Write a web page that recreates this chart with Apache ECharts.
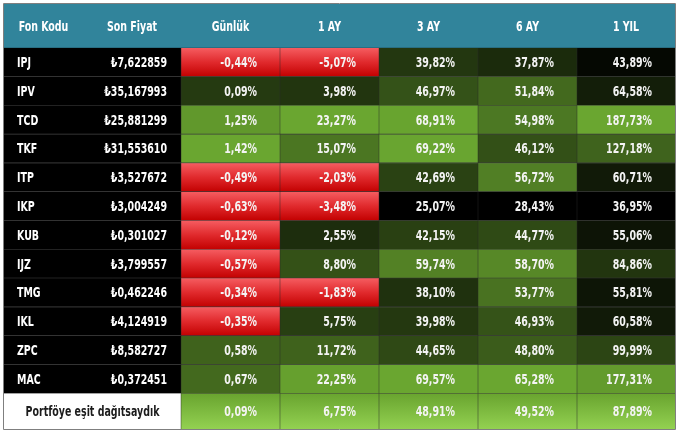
<!DOCTYPE html>
<html>
<head>
<meta charset="utf-8">
<script src="https://cdn.jsdelivr.net/npm/echarts@6/dist/echarts.min.js"></script>
<style>
  html, body { margin: 0; padding: 0; background: #fff; }
  #chart { width: 680px; height: 435px; }
</style>
</head>
<body>
<div id="chart"></div>
<script>
// table data
const columns = ['Fon Kodu', 'Son Fiyat', 'Günlük', '1 AY', '3 AY', '6 AY', '1 YIL']
const funds = ['IPJ', 'IPV', 'TCD', 'TKF', 'ITP', 'IKP', 'KUB', 'IJZ', 'TMG', 'IKL', 'ZPC', 'MAC']
const prices = [7.622859, 35.167993, 25.881299, 31.553610, 3.527672, 3.004249, 0.301027, 3.799557, 0.462246, 4.124919, 8.582727, 0.372451]
const daily = [-0.44, 0.09, 1.25, 1.42, -0.49, -0.63, -0.12, -0.57, -0.34, -0.35, 0.58, 0.67]
const month1 = [-5.07, 3.98, 23.27, 15.07, -2.03, -3.48, 2.55, 8.80, -1.83, 5.75, 11.72, 22.25]
const month3 = [39.82, 46.97, 68.91, 69.22, 42.69, 25.07, 42.15, 59.74, 38.10, 39.98, 44.65, 69.57]
const month6 = [37.87, 51.84, 54.98, 46.12, 56.72, 28.43, 44.77, 58.70, 53.77, 46.93, 48.80, 65.28]
const year1 = [43.89, 64.58, 187.73, 127.18, 60.71, 36.95, 55.06, 84.86, 55.81, 60.58, 99.99, 177.31]
const summaryLabel = 'Portföye eşit dağıtsaydık'
const summary = [0.09, 6.75, 48.91, 49.52, 87.89]

// layout
const colEdges = [0, 79, 177, 276, 375, 474, 573, 671]
const FONT = 'bold 14px "DejaVu Sans Condensed", "DejaVu Sans", sans-serif'
const SQUEEZE = 0.75 // condensed look

const fmtPct = v => v.toFixed(2).replace('.', ',') + '%'
const fmtPrice = v => '₺' + v.toFixed(6).replace('.', ',')

const redFill = new echarts.graphic.LinearGradient(0, 0, 0, 1, [
  { offset: 0, color: '#f55c60' },
  { offset: 0.5, color: '#e0292c' },
  { offset: 1, color: '#c20000' }
])
const sumFill = new echarts.graphic.LinearGradient(0, 0, 0, 1, [
  { offset: 0, color: '#69a42f' },
  { offset: 1, color: '#93d151' }
])

const valueCols = [daily, month1, month3, month6, year1]

// header cells
const headCells = columns.map((name, i) => ({ col: i, row: 0, span: 1, text: name, fill: '#31849b', color: '#fff', align: 'center', line: '#23596a' }))

// fund rows
const bodyCells = []
funds.forEach((f, i) => {
  bodyCells.push({ col: 0, row: i, span: 1, text: f, fill: '#000', color: '#fff', align: 'left', line: '#444' })
  bodyCells.push({ col: 1, row: i, span: 1, text: fmtPrice(prices[i]), fill: '#000', color: '#fff', align: 'right', line: '#444' })
  valueCols.forEach((vals, j) => {
    const min = Math.min(...vals)
    const max = Math.max(...vals)
    const v = vals[i]
    const fill = v < 0 ? redFill : echarts.color.lerp((v - min) / (max - min), ['#000000', '#6aa630'])
    bodyCells.push({ col: j + 2, row: i, span: 1, text: fmtPct(v), fill: fill, color: '#f4f4f4', align: 'value', line: '#3a3a3a', sep: true })
  })
})

// summary row
const sumCells = [{ col: 0, row: 0, span: 2, text: summaryLabel, fill: '#fff', color: '#1c1c1c', align: 'center', line: null }]
summary.forEach((v, j) => {
  sumCells.push({ col: j + 2, row: 0, span: 1, text: fmtPct(v), fill: sumFill, color: '#f4f4f4', align: 'value', line: null, sep: true })
})

function label(text, x, y, color, align) {
  return {
    type: 'text',
    x: x,
    y: y,
    scaleX: SQUEEZE,
    style: { text: text, x: 0, y: 0, fill: color, align: align, verticalAlign: 'middle', font: FONT }
  }
}

function makeRender(list) {
  return function (params, api) {
    const c = list[params.dataIndex]
    const row = api.value(1)
    const p0 = api.coord([colEdges[c.col], row])
    const p1 = api.coord([colEdges[c.col + c.span], row])
    const h = api.size([0, 1])[1]
    const x0 = p0[0], x1 = p1[0]
    const y0 = p0[1] - h / 2, y1 = p0[1] + h / 2
    let tx = (x0 + x1) / 2, align = 'center'
    if (c.align === 'left') { tx = x0 + 13; align = 'left' }
    if (c.align === 'right') { tx = x1 - 14; align = 'right' }
    if (c.align === 'value') { tx = x1 - 23; align = 'right' }
    const children = [
      { type: 'rect', shape: { x: x0, y: y0, width: x1 - x0, height: h }, style: { fill: c.fill } }
    ]
    if (c.line) {
      children.push({ type: 'line', shape: { x1: x0, y1: y1, x2: x1, y2: y1 }, style: { stroke: c.line, lineWidth: 1.2 } })
    }
    if (c.sep) {
      children.push({ type: 'line', shape: { x1: x0, y1: y0, x2: x0, y2: y1 }, style: { stroke: 'rgba(40,40,40,0.45)', lineWidth: 1 } })
    }
    children.push(label(c.text, tx, (y0 + y1) / 2 + 1, c.color, align))
    return { type: 'group', children: children }
  }
}

const chart = echarts.init(document.getElementById('chart'))
const xMax = colEdges[colEdges.length - 1]
chart.setOption({
  animation: false,
  grid: [
    { left: 4, top: 4, width: 671, height: 44 },
    { left: 4, top: 48, width: 671, height: 345.5 },
    { left: 4, top: 393.5, width: 671, height: 35.5 }
  ],
  xAxis: [0, 1, 2].map(g => ({ type: 'value', min: 0, max: xMax, gridIndex: g, show: false })),
  yAxis: [
    { type: 'category', data: ['header'], gridIndex: 0, show: false },
    { type: 'category', data: funds, inverse: true, gridIndex: 1, show: false },
    { type: 'category', data: [summaryLabel], gridIndex: 2, show: false }
  ],
  series: [
    { type: 'custom', xAxisIndex: 0, yAxisIndex: 0, renderItem: makeRender(headCells), data: headCells.map(c => [c.col, c.row]) },
    { type: 'custom', xAxisIndex: 1, yAxisIndex: 1, renderItem: makeRender(bodyCells), data: bodyCells.map(c => [c.col, c.row]) },
    { type: 'custom', xAxisIndex: 2, yAxisIndex: 2, renderItem: makeRender(sumCells), data: sumCells.map(c => [c.col, c.row]) }
  ],
  graphic: [
    { type: 'rect', shape: { x: 3.5, y: 3.5, width: 672, height: 426 }, style: { fill: null, stroke: '#7f7f7f', lineWidth: 1 }, z: 100 }
  ]
})
</script>
</body>
</html>
